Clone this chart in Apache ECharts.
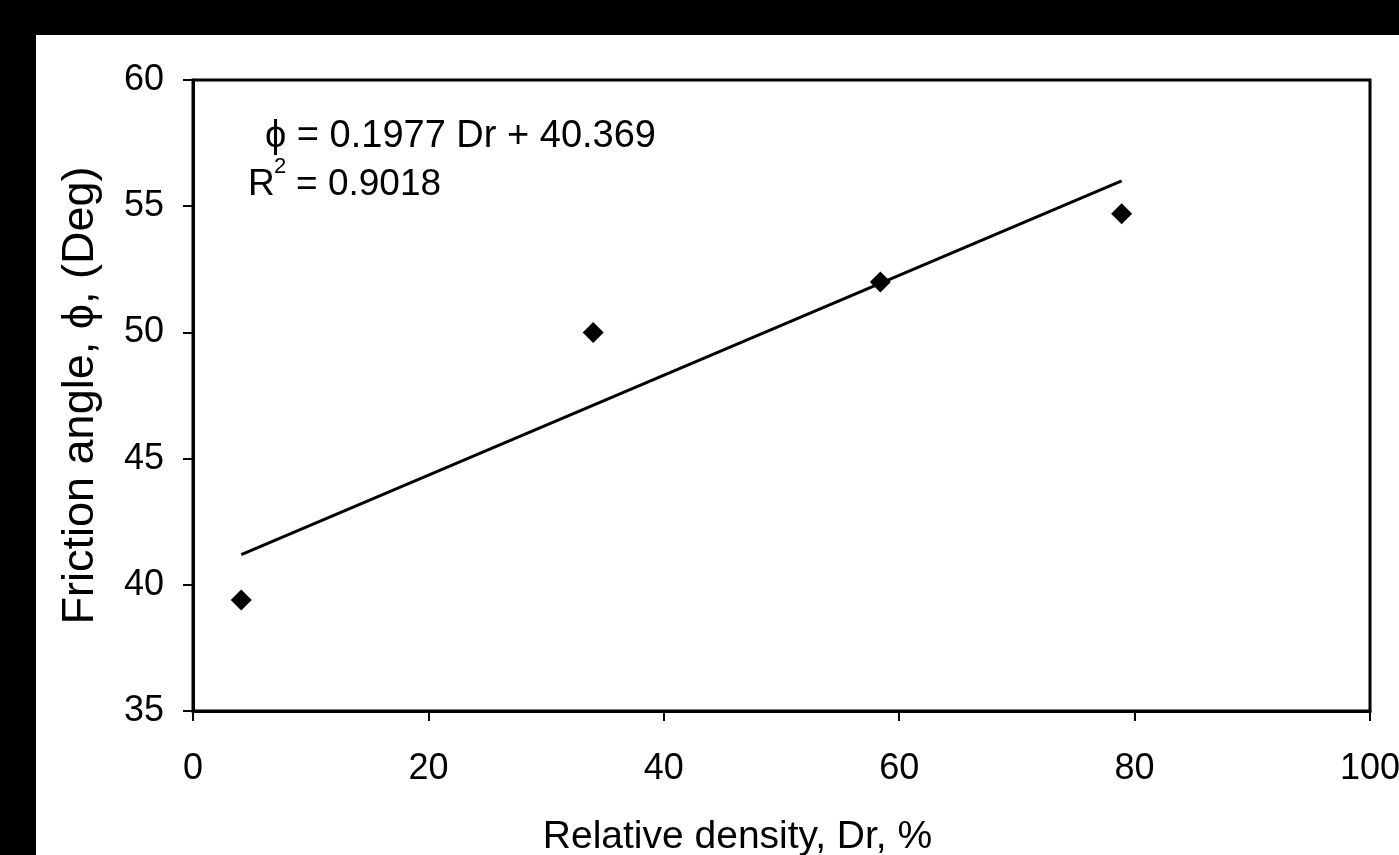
<!DOCTYPE html>
<html>
<head>
<meta charset="utf-8">
<script src="https://cdn.jsdelivr.net/npm/echarts@6/dist/echarts.min.js"></script>
<style>
html, body { margin: 0; padding: 0; background: #000; width: 1399px; height: 855px; overflow: hidden; }
#chart { position: absolute; left: 36px; top: 35px; width: 1363px; height: 820px; background: #fff; }
</style>
</head>
<body>
<div id="chart"></div>
<script>
// measured points: relative density (%) vs friction angle (deg)
const densityDr = [4.1, 34.0, 58.4, 78.9];
const frictionPhi = [39.4, 50.0, 52.0, 54.7];
// fitted line end points
const trendDr = [4.1, 78.9];
const trendPhi = [41.2, 56.0];
const xTicks = [0, 20, 40, 60, 80, 100];
const yTicks = [35, 40, 45, 50, 55, 60];
const eqLine = 'ϕ = 0.1977 Dr + 40.369';
const r2Value = '= 0.9018';

const font = 'Liberation Sans, Arial, sans-serif';
const chart = echarts.init(document.getElementById('chart'));

const option = {
    backgroundColor: '#fff',
    animation: false,
    grid: {
        left: 157,
        top: 45,
        right: 29,
        bottom: 144,
        containLabel: false,
        outerBoundsMode: 'none',
        show: true,
        borderColor: '#000',
        borderWidth: 3,
        backgroundColor: '#fff'
    },
    xAxis: {
        type: 'value',
        min: xTicks[0],
        max: xTicks[xTicks.length - 1],
        interval: 20,
        name: 'Relative density, Dr, %',
        nameLocation: 'middle',
        nameGap: 107,
        nameTextStyle: { fontFamily: font, fontSize: 39, color: '#000', padding: [0, 88, 0, 0] },
        axisLine: { show: true, lineStyle: { color: '#000', width: 3 } },
        axisTick: { show: true, length: 10, lineStyle: { color: '#000', width: 2 } },
        axisLabel: { fontFamily: font, fontSize: 36, color: '#000', margin: 40 },
        splitLine: { show: false }
    },
    yAxis: {
        type: 'value',
        min: yTicks[0],
        max: yTicks[yTicks.length - 1],
        interval: 5,
        name: 'Friction angle, ϕ, (Deg)',
        nameLocation: 'middle',
        nameGap: 90,
        nameTextStyle: { fontFamily: font, fontSize: 45, color: '#000' },
        axisLine: { show: true, lineStyle: { color: '#000', width: 3 } },
        axisTick: { show: true, length: 10, lineStyle: { color: '#000', width: 2 } },
        axisLabel: { fontFamily: font, fontSize: 36, color: '#000', margin: 29 },
        splitLine: { show: false }
    },
    graphic: [
        {
            type: 'text',
            left: 229,
            top: 83,
            style: { text: eqLine, font: '38px ' + font, fill: '#000' }
        },
        {
            type: 'text',
            left: 212,
            top: 131,
            style: { text: 'R', font: '37px ' + font, fill: '#000' }
        },
        {
            type: 'text',
            left: 238,
            top: 121,
            style: { text: '2', font: '22px ' + font, fill: '#000' }
        },
        {
            type: 'text',
            left: 260,
            top: 131,
            style: { text: r2Value, font: '37px ' + font, fill: '#000' }
        }
    ],
    series: [
        {
            name: 'Trend',
            type: 'line',
            data: trendDr.map((d, i) => [d, trendPhi[i]]),
            showSymbol: false,
            symbol: 'none',
            lineStyle: { color: '#000', width: 3 },
            z: 2
        },
        {
            name: 'Data',
            type: 'scatter',
            data: densityDr.map((d, i) => [d, frictionPhi[i]]),
            symbol: 'diamond',
            symbolSize: [21, 21],
            itemStyle: { color: '#000', opacity: 1 },
            z: 3
        }
    ]
};

chart.setOption(option);
</script>
</body>
</html>
